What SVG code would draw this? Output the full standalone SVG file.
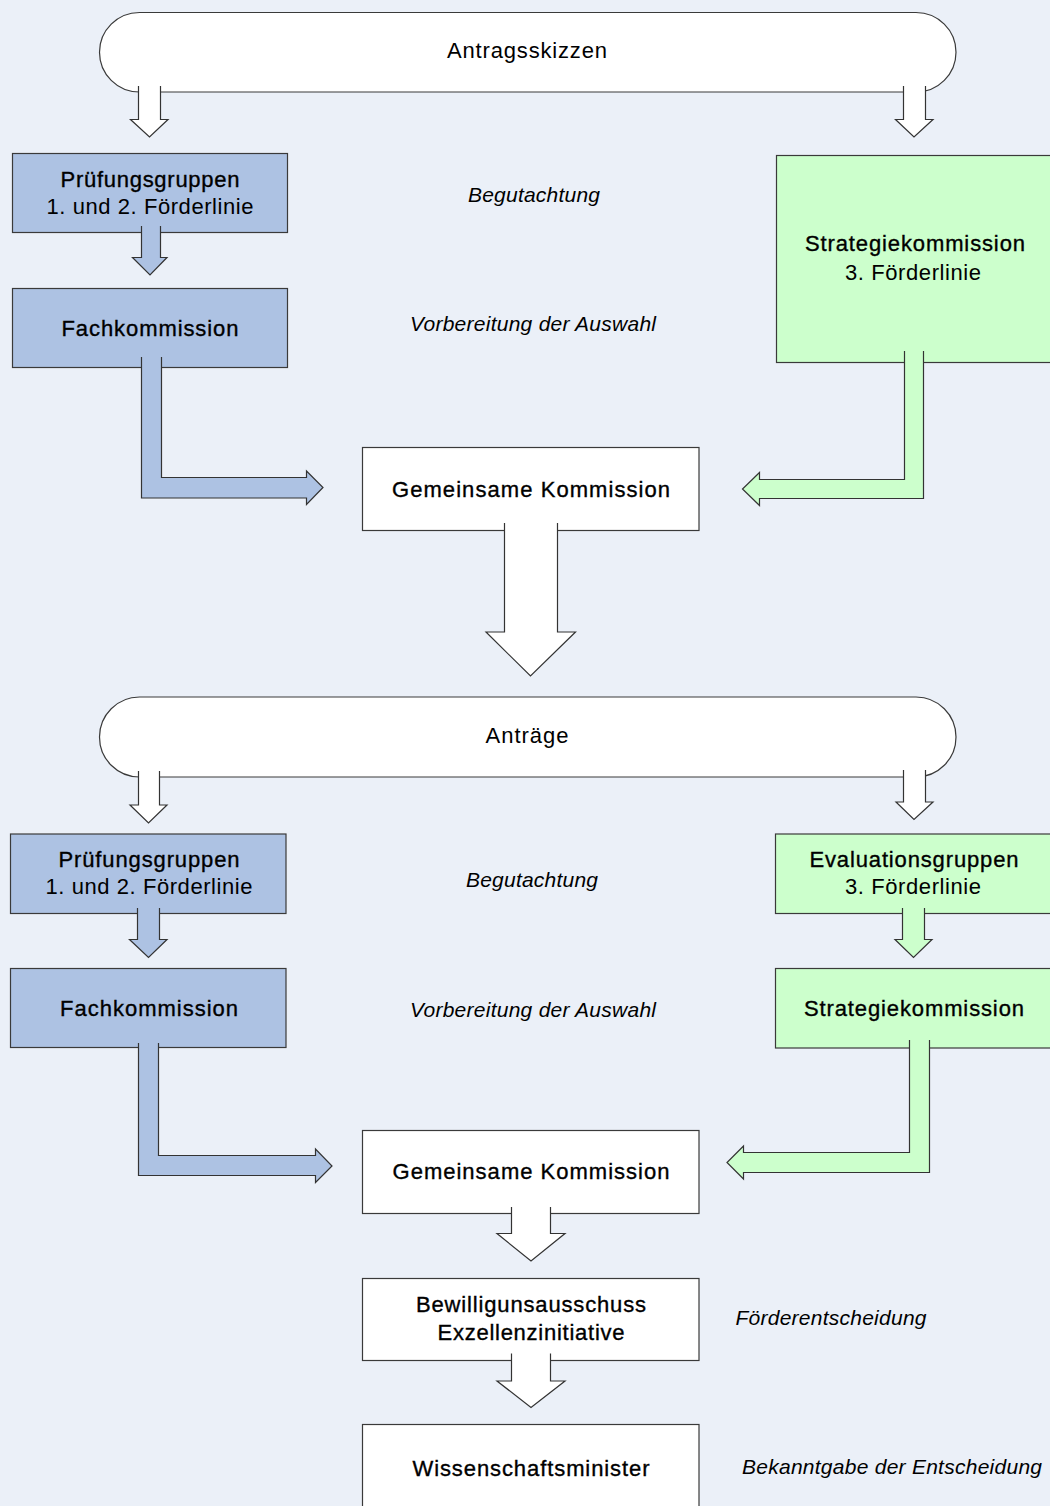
<svg xmlns="http://www.w3.org/2000/svg" width="1050" height="1506" viewBox="0 0 1050 1506">
<style>
text{font-family:"Liberation Sans",Arial,Helvetica,sans-serif;font-size:22px;fill:#000;text-anchor:middle}
.b{stroke:#000;stroke-width:0.35px}
.i{font-style:italic;font-size:21px}
.box{stroke:#3a3a3a;stroke-width:1.2}
.white{fill:#ffffff}
.blue{fill:#adc2e3}
.green{fill:#ccffcc}
.arr{stroke:#333333;stroke-width:1.2;stroke-linejoin:miter}
</style>
<rect x="0" y="0" width="1050" height="1506" fill="#ebf0f8"/>

<g id="antragsskizzen">
<rect class="box white" x="99.5" y="12.5" width="856.5" height="79.5" rx="40" ry="40"/>
<text x="527" y="58" textLength="160" lengthAdjust="spacing">Antragsskizzen</text>
</g>

<g id="pruefungsgruppen1">
<rect class="box blue" x="12.5" y="153.5" width="275" height="79"/>
<text class="b" x="150" y="187" textLength="179" lengthAdjust="spacing">Prüfungsgruppen</text>
<text x="150" y="214" textLength="207" lengthAdjust="spacing">1. und 2. Förderlinie</text>
</g>

<g id="fachkommission1">
<rect class="box blue" x="12.5" y="288.5" width="275" height="79"/>
<text class="b" x="150" y="336" textLength="177" lengthAdjust="spacing">Fachkommission</text>
</g>

<g id="strategiekommission1">
<rect class="box green" x="776.5" y="155.5" width="300" height="207"/>
<text class="b" x="915" y="251" textLength="220" lengthAdjust="spacing">Strategiekommission</text>
<text x="913" y="280" textLength="136" lengthAdjust="spacing">3. Förderlinie</text>
</g>

<g id="label-begutachtung1">
<text class="i" x="534" y="202" textLength="132" lengthAdjust="spacing">Begutachtung</text>
</g>
<g id="label-vorbereitung1">
<text class="i" x="533" y="331" textLength="246" lengthAdjust="spacing">Vorbereitung der Auswahl</text>
</g>

<g id="gemeinsame1">
<rect class="box white" x="362.5" y="447.5" width="336.5" height="83"/>
<text class="b" x="531" y="497" textLength="278" lengthAdjust="spacing">Gemeinsame Kommission</text>
</g>

<g id="antraege">
<rect class="box white" x="99.5" y="697" width="856.5" height="80" rx="40" ry="40"/>
<text x="527" y="743" textLength="83" lengthAdjust="spacing">Anträge</text>
</g>

<g id="pruefungsgruppen2">
<rect class="box blue" x="10.5" y="834" width="275.5" height="79.5"/>
<text class="b" x="149" y="867" textLength="181" lengthAdjust="spacing">Prüfungsgruppen</text>
<text x="149" y="894" textLength="207" lengthAdjust="spacing">1. und 2. Förderlinie</text>
</g>

<g id="fachkommission2">
<rect class="box blue" x="10.5" y="968.5" width="275.5" height="79"/>
<text class="b" x="149" y="1016" textLength="178" lengthAdjust="spacing">Fachkommission</text>
</g>

<g id="evaluationsgruppen">
<rect class="box green" x="775.5" y="834" width="300" height="79.5"/>
<text class="b" x="914" y="867" textLength="209" lengthAdjust="spacing">Evaluationsgruppen</text>
<text x="913" y="894" textLength="136" lengthAdjust="spacing">3. Förderlinie</text>
</g>

<g id="strategiekommission2">
<rect class="box green" x="775.5" y="968.5" width="300" height="79.5"/>
<text class="b" x="914" y="1016" textLength="220" lengthAdjust="spacing">Strategiekommission</text>
</g>

<g id="label-begutachtung2">
<text class="i" x="532" y="887" textLength="132" lengthAdjust="spacing">Begutachtung</text>
</g>
<g id="label-vorbereitung2">
<text class="i" x="533" y="1017" textLength="246" lengthAdjust="spacing">Vorbereitung der Auswahl</text>
</g>

<g id="gemeinsame2">
<rect class="box white" x="362.5" y="1130.5" width="336.5" height="83"/>
<text class="b" x="531" y="1178.5" textLength="277" lengthAdjust="spacing">Gemeinsame Kommission</text>
</g>

<g id="bewilligungsausschuss">
<rect class="box white" x="362.5" y="1278.5" width="336.5" height="82"/>
<text class="b" x="531" y="1311.5" textLength="230" lengthAdjust="spacing">Bewilligunsausschuss</text>
<text class="b" x="531" y="1339.5" textLength="187" lengthAdjust="spacing">Exzellenzinitiative</text>
</g>

<g id="label-foerderentscheidung">
<text class="i" x="831" y="1325" textLength="191" lengthAdjust="spacing">Förderentscheidung</text>
</g>

<g id="wissenschaftsminister">
<rect class="box white" x="362.5" y="1424.5" width="336.5" height="100"/>
<text class="b" x="531" y="1475.5" textLength="237" lengthAdjust="spacing">Wissenschaftsminister</text>
</g>

<g id="label-bekanntgabe">
<text class="i" x="892" y="1474" textLength="300" lengthAdjust="spacing">Bekanntgabe der Entscheidung</text>
</g>

<g id="connectors">
<path class="arr white" d="M138.5,86 L138.5,119.5 L130.5,119.5 L149.5,137 L168,119.5 L160.5,119.5 L160.5,86"/>
<path class="arr white" d="M903.5,86 L903.5,119.5 L895.5,119.5 L914,137 L933,119.5 L925.5,119.5 L925.5,86"/>
<path class="arr blue" d="M141.5,226 L141.5,257.5 L132.5,257.5 L150,275 L167,257.5 L160.5,257.5 L160.5,226"/>
<path class="arr blue" d="M141.5,357 L141.5,498 L306.5,498 L306.5,504.5 L323,487.5 L306.5,471 L306.5,477.5 L161.5,477.5 L161.5,357"/>
<path class="arr green" d="M923.5,351 L923.5,498.5 L759.5,498.5 L759.5,505.5 L742.5,489 L759.5,472.5 L759.5,479.5 L904.5,479.5 L904.5,351"/>
<path class="arr white" d="M504.5,523 L504.5,632 L486,632 L530.5,676 L575.5,632 L557.5,632 L557.5,523"/>
<path class="arr white" d="M138.5,771 L138.5,805 L130,805 L148.5,823 L167,805 L159.5,805 L159.5,771"/>
<path class="arr white" d="M903.5,770 L903.5,802 L896,802 L914,819.5 L933,802 L925.5,802 L925.5,770"/>
<path class="arr blue" d="M137.5,908 L137.5,939.5 L129.5,939.5 L148.5,957.5 L167,939.5 L159.5,939.5 L159.5,908"/>
<path class="arr green" d="M902.5,908 L902.5,939.5 L895,939.5 L913.5,957.5 L932,939.5 L924.5,939.5 L924.5,908"/>
<path class="arr blue" d="M138.5,1043 L138.5,1175.5 L315.5,1175.5 L315.5,1182.5 L332,1166 L315.5,1149 L315.5,1155.5 L158.5,1155.5 L158.5,1043"/>
<path class="arr green" d="M929.5,1040 L929.5,1172.5 L743.5,1172.5 L743.5,1179 L727,1162.5 L743.5,1146 L743.5,1152.5 L909.5,1152.5 L909.5,1040"/>
<path class="arr white" d="M511.5,1207 L511.5,1233.5 L497,1233.5 L531,1261 L565,1233.5 L550.5,1233.5 L550.5,1207"/>
<path class="arr white" d="M511.5,1353.5 L511.5,1381 L497,1381 L531,1407.5 L565,1381 L550.5,1381 L550.5,1353.5"/>
</g>
</svg>
